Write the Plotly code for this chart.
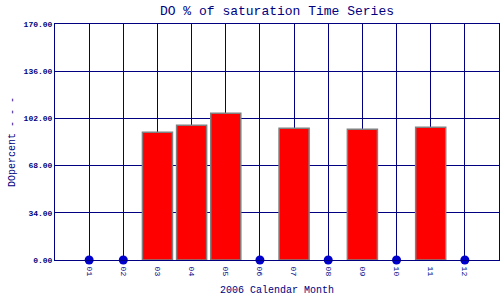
import plotly.graph_objects as go

months = ["01", "02", "03", "04", "05", "06", "07", "08", "09", "10", "11", "12"]
values = [None, None, 92.0, 97.0, 105.7, None, 94.9, None, 94.1, None, 95.6, None]
y_ticks = [0, 34, 68, 102, 136, 170]

navy = "#000080"
font = "Liberation Mono, DejaVu Sans Mono, monospace"

xpos = list(range(1, len(months) + 1))
bar_x = [x for x, v in zip(xpos, values) if v is not None]
bar_y = [v for v in values if v is not None]
miss_x = [x for x, v in zip(xpos, values) if v is None]
miss_y = [0 for _ in miss_x]

fig = go.Figure()
fig.add_trace(go.Bar(x=bar_x, y=bar_y, width=0.88,
                     marker=dict(color="#FF0000", line=dict(color="#808080", width=1.5))))
fig.add_trace(go.Scatter(x=miss_x, y=miss_y, mode="markers", cliponaxis=False,
                         marker=dict(color="#0000CC", size=9)))

fig.update_layout(
    width=500, height=300,
    margin=dict(l=55, r=1, t=24, b=40),
    paper_bgcolor="white", plot_bgcolor="white",
    showlegend=False,
    font=dict(family=font, color=navy),
    title=dict(text="DO % of saturation Time Series", x=0.554, xanchor="center",
               y=0.965, yanchor="middle", font=dict(size=13, color=navy, family=font)),
)
fig.update_xaxes(
    range=[0, 13], tickmode="array", tickvals=xpos, ticktext=months, tickangle=90,
    showgrid=True, gridcolor=navy, gridwidth=1,
    showline=True, linecolor=navy, linewidth=1, mirror=True,
    ticks="", ticklabelstandoff=4, tickfont=dict(size=8, color=navy, family=font),
    title=dict(text="2006 Calendar Month", font=dict(size=10, color=navy, family=font), standoff=10),
    zeroline=False,
)
fig.update_yaxes(
    range=[0, 170], tickmode="array", tickvals=y_ticks,
    ticktext=["<b>%.2f</b>" % v for v in y_ticks],
    showgrid=True, gridcolor=navy, gridwidth=1,
    showline=True, linecolor=navy, linewidth=1, mirror=True,
    ticks="", tickfont=dict(size=8, color=navy, family=font),
    title=dict(text="DOpercent - - -", font=dict(size=10, color=navy, family=font), standoff=6),
    zeroline=False,
)

fig.write_html("out.html")
